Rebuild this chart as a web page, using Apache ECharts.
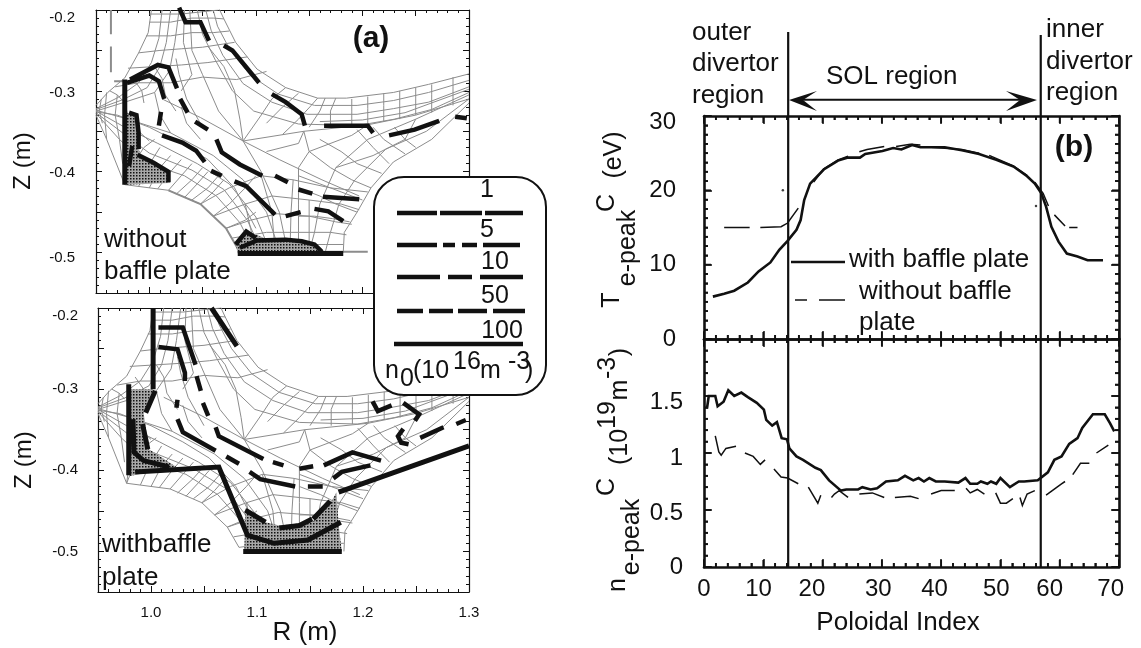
<!DOCTYPE html>
<html>
<head>
<meta charset="utf-8">
<style>html,body{margin:0;padding:0;background:#fff}#chart{width:1141px;height:648px}</style>
<script src="https://cdn.jsdelivr.net/npm/echarts@6/dist/echarts.min.js"></script>
</head>
<body>
<div id="chart"></div>
<script>
var tempWith = [[1.5,5.7],[3.4,6.1],[5.1,6.5],[7.4,7.6],[9.2,9.1],[11.2,10.3],[12.7,12],[14.1,13.2],[15.6,14.7],[16.3,16],[16.9,18.7],[17.9,20.9],[20.2,22.8],[22.6,24],[24.3,24.4],[26.3,24.4],[27.2,24.9],[30.1,25.3],[31.9,25.7],[33.3,25.5],[35.1,26.1],[36.5,25.8],[40.6,25.8],[43.5,25.4],[46.4,24.9],[49.3,24.1],[52.2,23.2],[54.5,21.9],[55.8,20.9],[56.9,19.6],[57.7,17.8],[58.6,15.1],[59.8,13.1],[61.2,11.5],[63,11.1],[64.7,10.6],[67.3,10.6]];
var tempWithout = [[3.4,15],[7.7,15],[null,null],[9.5,15],[13,15.1],[14.1,15.6],[15.9,17.6],[null,null],[18.5,21.1],[20.2,22.9],[22.6,24.1],[24.3,24.6],[null,null],[26.2,25.2],[27.5,25.5],[30.4,25.9],[null,null],[32.4,25.9],[34.8,26.2],[36.5,26.1],[null,null],[38.3,25.8],[43.5,25.5],[46.4,25],[null,null],[48.1,24.7],[52.2,23.3],[54.5,22],[null,null],[55.8,21.1],[57.2,19.6],[58.1,17.9],[null,null],[59.1,16.7],[60.9,15.2],[null,null],[61.6,15],[63,15]];
var densWith = [[0.5,1.39],[0.8,1.5],[1.9,1.5],[2.3,1.41],[3.3,1.45],[4.1,1.55],[5.1,1.5],[6.3,1.53],[7.4,1.49],[8.9,1.44],[10.1,1.38],[10.5,1.29],[11.5,1.24],[12.3,1.27],[13.1,1.13],[14,1.12],[14.4,1.04],[15.6,0.97],[16.7,0.94],[18.8,0.87],[19.7,0.85],[21.1,0.76],[23.1,0.67],[24,0.68],[26,0.68],[26.7,0.7],[28.1,0.68],[29.2,0.69],[30.7,0.75],[32.7,0.76],[33.9,0.8],[35.3,0.76],[36.2,0.78],[37.1,0.75],[38,0.78],[39.1,0.75],[40.6,0.75],[42.9,0.74],[44.1,0.78],[44.9,0.73],[46.1,0.73],[46.7,0.75],[47.8,0.73],[48.4,0.75],[49.3,0.73],[50,0.78],[51.6,0.7],[53.1,0.75],[54,0.75],[56.3,0.76],[58,0.83],[59.1,0.94],[60.3,0.97],[61.6,1.08],[63,1.13],[63.8,1.22],[65.6,1.34],[67.6,1.34],[68.5,1.26],[69.2,1.19]];
var densWithout = [[1.9,1.15],[2.5,1.01],[2.9,0.98],[3.7,1.04],[5.4,1.06],[null,null],[6.9,1],[8.3,0.97],[9.5,0.9],[10.3,0.94],[null,null],[11.8,0.86],[13,0.79],[14.1,0.78],[15.9,0.73],[null,null],[17.6,0.7],[19.2,0.56],[19.7,0.63],[null,null],[21.5,0.61],[22,0.64],[22.8,0.67],[24.3,0.61],[null,null],[26.2,0.64],[28.4,0.65],[30.4,0.61],[null,null],[32.2,0.61],[34.8,0.62],[36.2,0.6],[null,null],[38.3,0.64],[40,0.67],[42.3,0.67],[null,null],[44.2,0.69],[44.9,0.65],[46.1,0.68],[47.3,0.64],[null,null],[49.2,0.65],[50,0.56],[51,0.56],[52.1,0.6],[null,null],[53.3,0.61],[53.7,0.54],[54.5,0.64],[55.8,0.67],[null,null],[57.7,0.63],[60.3,0.73],[60.9,0.75],[null,null],[62.2,0.81],[63.5,0.91],[65,0.91],[null,null],[66.2,1],[68.2,1.07]];
var strayDots = [[13.3,20],[56,17.9]];
var regionBounds = [14.2,56.8];
var solSpan = [[16.7,32.2],[53.3,32.2]];

// tick labels, places are where the labels sit in the original
var indexLabels = ['0','10','20','30','40','50','60','70'];
var indexLabelPlaces = [0,9.2,18.2,29.4,38.9,49.3,58.3,68.6];
var tempLabels = ['0','10','20','30'];
var tempLabelPlaces = [0,10,20,29.1];
var densLabels = ['0','0.5','1','1.5'];
var densLabelPlaces = [0,0.47,0.95,1.44];
var rLabels = ['1.0','1.1','1.2','1.3'];
var rLabelPlaces = [1.0,1.1,1.2,1.3];
var zLabels = ['-0.5','-0.4','-0.3','-0.2'];
var zLabelPlacesTop = [-0.506,-0.4015,-0.3025,-0.21];
var zLabelPlacesBottom = [-0.5,-0.4,-0.3,-0.21];

// (a) computational mesh in R,Z, same for both panels
var meshLines = [
  [[1.065,-0.197],[1.07,-0.211],[1.081,-0.24],[1.101,-0.273],[1.128,-0.296],[1.158,-0.309],[1.185,-0.309],[1.229,-0.302],[1.262,-0.292],[1.3,-0.279]],
  [[1.06,-0.2],[1.064,-0.22],[1.076,-0.25],[1.095,-0.281],[1.121,-0.304],[1.155,-0.318],[1.195,-0.318],[1.229,-0.312],[1.262,-0.302],[1.3,-0.287]],
  [[1.053,-0.2],[1.058,-0.225],[1.069,-0.256],[1.088,-0.291],[1.115,-0.314],[1.148,-0.329],[1.195,-0.329],[1.229,-0.322],[1.262,-0.314],[1.3,-0.295]],
  [[1.045,-0.2],[1.05,-0.23],[1.062,-0.262],[1.078,-0.3],[1.098,-0.325],[1.14,-0.341],[1.195,-0.343],[1.23,-0.335],[1.265,-0.323],[1.3,-0.302]],
  [[1.16,-0.338],[1.2,-0.336],[1.24,-0.327],[1.3,-0.298]],
  [[1.088,-0.362],[1.145,-0.35],[1.205,-0.342],[1.25,-0.33],[1.3,-0.31]],
  [[1.038,-0.2],[1.04,-0.25],[1.05,-0.28],[1.065,-0.325],[1.088,-0.362]],
  [[1.033,-0.2],[1.032,-0.24],[1.04,-0.28],[1.03,-0.3]],
  [[1.028,-0.2],[1.024,-0.24],[1.019,-0.275],[1.005,-0.302],[0.977,-0.314],[0.95,-0.325]],
  [[1.02,-0.2],[1.016,-0.24],[1.01,-0.27],[0.998,-0.296],[0.975,-0.311],[0.95,-0.323]],
  [[1.012,-0.2],[1.009,-0.235],[1.002,-0.265],[0.99,-0.29],[0.971,-0.308],[0.95,-0.322]],
  [[1.002,-0.2],[0.999,-0.228],[0.99,-0.253],[0.977,-0.284],[0.961,-0.302],[0.95,-0.318]],
  [[1.0,-0.205],[1.03,-0.205],[1.065,-0.2]],
  [[1.0,-0.215],[1.02,-0.215],[1.04,-0.21],[1.06,-0.21],[1.07,-0.211]],
  [[0.997,-0.232],[1.02,-0.232],[1.04,-0.228],[1.06,-0.228],[1.075,-0.226]],
  [[0.99,-0.253],[1.01,-0.25],[1.03,-0.248],[1.05,-0.246],[1.08,-0.24]],
  [[0.98,-0.272],[1.005,-0.27],[1.03,-0.268],[1.055,-0.265],[1.092,-0.258]],
  [[0.968,-0.295],[0.99,-0.29],[1.02,-0.29],[1.05,-0.283],[1.082,-0.286],[1.11,-0.276]],
  [[1.088,-0.362],[1.085,-0.335],[1.08,-0.3],[1.07,-0.27],[1.055,-0.245]],
  [[1.088,-0.362],[1.105,-0.33],[1.115,-0.31],[1.128,-0.296]],
  [[1.11,-0.34],[1.125,-0.32],[1.14,-0.303]],
  [[1.125,-0.354],[1.14,-0.335],[1.152,-0.318],[1.158,-0.309]],
  [[1.15,-0.345],[1.16,-0.325],[1.165,-0.309]],
  [[1.17,-0.345],[1.17,-0.325],[1.175,-0.309]],
  [[1.19,-0.343],[1.19,-0.325],[1.19,-0.31]],
  [[1.205,-0.342],[1.205,-0.322],[1.205,-0.307]],
  [[1.22,-0.338],[1.22,-0.318],[1.22,-0.303]],
  [[1.235,-0.335],[1.235,-0.31],[1.235,-0.3]],
  [[1.25,-0.33],[1.25,-0.31],[1.25,-0.296]],
  [[1.265,-0.327],[1.265,-0.305],[1.265,-0.292]],
  [[1.285,-0.318],[1.285,-0.295],[1.285,-0.283]],
  [[1.05,-0.345],[1.035,-0.31],[1.028,-0.28],[1.025,-0.26]],
  [[1.025,-0.325],[1.015,-0.305],[1.012,-0.285],[1.005,-0.27]],
  [[1.03,-0.32],[1.035,-0.34],[1.048,-0.36]],
  [[1.005,-0.302],[1.01,-0.33],[1.02,-0.352]],
  [[0.985,-0.33],[0.99,-0.35],[1.0,-0.362]],
  [[0.995,-0.315],[0.993,-0.3],[0.985,-0.285]],
  [[0.975,-0.312],[0.97,-0.305],[0.963,-0.3]],
  [[0.955,-0.31],[0.953,-0.325],[0.956,-0.34]],
  [[0.95,-0.33],[0.96,-0.36],[0.977,-0.416],[1.018,-0.423],[1.048,-0.44],[1.072,-0.47],[1.083,-0.495]],
  [[0.95,-0.328],[0.972,-0.36],[0.995,-0.388],[1.033,-0.405],[1.063,-0.43],[1.085,-0.463],[1.098,-0.497]],
  [[0.95,-0.327],[0.975,-0.352],[1.0,-0.377],[1.04,-0.398],[1.07,-0.422],[1.092,-0.46],[1.105,-0.497]],
  [[0.95,-0.325],[0.977,-0.345],[1.008,-0.365],[1.045,-0.39],[1.075,-0.415],[1.1,-0.456],[1.113,-0.497]],
  [[0.95,-0.326],[0.97,-0.33],[1.0,-0.345],[1.03,-0.365],[1.055,-0.385],[1.08,-0.42],[1.1,-0.47]],
  [[0.95,-0.324],[0.98,-0.335],[1.02,-0.352],[1.06,-0.38],[1.088,-0.41],[1.11,-0.45],[1.122,-0.497]],
  [[1.012,-0.31],[1.048,-0.333],[1.088,-0.362],[1.122,-0.385],[1.162,-0.41],[1.197,-0.43]],
  [[1.088,-0.362],[1.105,-0.4],[1.122,-0.45],[1.13,-0.5]],
  [[1.3,-0.315],[1.265,-0.36],[1.229,-0.388],[1.208,-0.42],[1.195,-0.45],[1.183,-0.475],[1.182,-0.5]],
  [[1.3,-0.31],[1.26,-0.35],[1.222,-0.372],[1.193,-0.41],[1.178,-0.44],[1.17,-0.475],[1.165,-0.5]],
  [[1.3,-0.305],[1.25,-0.335],[1.205,-0.36],[1.175,-0.395],[1.16,-0.44],[1.155,-0.475],[1.15,-0.5]],
  [[1.145,-0.35],[1.15,-0.375],[1.14,-0.395],[1.14,-0.44],[1.14,-0.475],[1.14,-0.5]],
  [[1.11,-0.375],[1.14,-0.365],[1.145,-0.35]],
  [[1.15,-0.375],[1.19,-0.355],[1.205,-0.342]],
  [[1.175,-0.395],[1.21,-0.38],[1.24,-0.36],[1.25,-0.335]],
  [[1.083,-0.495],[1.11,-0.49],[1.14,-0.49],[1.165,-0.49],[1.182,-0.49]],
  [[1.078,-0.482],[1.11,-0.475],[1.14,-0.475],[1.17,-0.475],[1.185,-0.478]],
  [[1.072,-0.47],[1.095,-0.46],[1.12,-0.452],[1.15,-0.455],[1.175,-0.462],[1.19,-0.465]],
  [[1.06,-0.455],[1.09,-0.44],[1.115,-0.43],[1.15,-0.435],[1.18,-0.44],[1.197,-0.447]],
  [[1.048,-0.44],[1.075,-0.42],[1.105,-0.405],[1.135,-0.41],[1.17,-0.42],[1.205,-0.425]],
  [[1.09,-0.44],[1.095,-0.47],[1.1,-0.497]],
  [[1.105,-0.405],[1.115,-0.45],[1.118,-0.497]],
  [[1.135,-0.41],[1.133,-0.45],[1.132,-0.5]],
  [[1.15,-0.435],[1.15,-0.5]],
  [[0.977,-0.416],[0.985,-0.39],[0.995,-0.37],[1.005,-0.36]],
  [[0.99,-0.418],[0.998,-0.395],[1.01,-0.37]],
  [[1.0,-0.42],[1.01,-0.395],[1.02,-0.38]],
  [[1.008,-0.421],[1.02,-0.4],[1.03,-0.385]],
  [[1.018,-0.423],[1.03,-0.405],[1.04,-0.39]],
  [[1.025,-0.428],[1.04,-0.41],[1.05,-0.395]],
  [[1.033,-0.432],[1.045,-0.415],[1.055,-0.4]],
  [[1.04,-0.435],[1.055,-0.42],[1.065,-0.405]],
  [[1.048,-0.44],[1.06,-0.425],[1.07,-0.41]],
  [[1.06,-0.455],[1.075,-0.44],[1.09,-0.42],[1.1,-0.405]],
  [[1.072,-0.47],[1.09,-0.46],[1.1,-0.45]],
  [[1.25,-0.37],[1.24,-0.36],[1.23,-0.345]],
  [[1.24,-0.378],[1.22,-0.36],[1.21,-0.345]],
  [[1.225,-0.39],[1.21,-0.37],[1.195,-0.348]],
  [[1.218,-0.402],[1.195,-0.39],[1.18,-0.375],[1.16,-0.36]],
  [[1.208,-0.42],[1.19,-0.41],[1.17,-0.395],[1.15,-0.375]],
  [[1.2,-0.435],[1.18,-0.425],[1.16,-0.415],[1.14,-0.405]],
  [[1.195,-0.45],[1.175,-0.44],[1.16,-0.43],[1.14,-0.42]],
  [[1.188,-0.462],[1.172,-0.458],[1.155,-0.455],[1.14,-0.455]],
  [[0.96,-0.302],[0.958,-0.33],[0.96,-0.36]],
  [[0.97,-0.305],[0.968,-0.33],[0.972,-0.36],[0.975,-0.39]],
  [[0.977,-0.31],[0.98,-0.335],[0.982,-0.37],[0.977,-0.416]]
];
var topGrayLines = [
  [[0.964,-0.2],[0.964,-0.23]],
  [[0.964,-0.245],[0.964,-0.277]],
  [[0.967,-0.288],[0.977,-0.288]],
  [[1.083,-0.499],[1.205,-0.499]],
  [[1.018,-0.423],[1.048,-0.44],[1.072,-0.47],[1.083,-0.495]]
];

// n0 contours, without baffle plate
var topLevel1 = [
  [[1.028,-0.197],[1.034,-0.215],[1.048,-0.215],[1.056,-0.238]],
  [[1.07,-0.244],[1.078,-0.25],[1.103,-0.29]],
  [[1.115,-0.304],[1.128,-0.314],[1.143,-0.329],[1.146,-0.343]],
  [[1.164,-0.343],[1.205,-0.343],[1.21,-0.352]],
  [[1.225,-0.355],[1.249,-0.348],[1.272,-0.337]],
  [[1.287,-0.332],[1.298,-0.334]]
];
var topLevel5 = [
  [[0.982,-0.286],[1.008,-0.268],[1.018,-0.271],[1.026,-0.297]],
  [[1.029,-0.31],[1.036,-0.327]],
  [[1.043,-0.338],[1.055,-0.348]],
  [[1.063,-0.36],[1.068,-0.376],[1.085,-0.391],[1.106,-0.405]],
  [[1.118,-0.405],[1.13,-0.413]],
  [[1.14,-0.422],[1.153,-0.427]],
  [[1.163,-0.431],[1.197,-0.434]]
];
var topLevel10 = [
  [[0.979,-0.29],[1.0,-0.281],[1.009,-0.288],[1.014,-0.31]],
  [[1.011,-0.326],[1.009,-0.343]],
  [[1.012,-0.355],[1.031,-0.364],[1.044,-0.374],[1.052,-0.388]],
  [[1.058,-0.399],[1.068,-0.405]],
  [[1.08,-0.412],[1.091,-0.418],[1.118,-0.453]],
  [[1.128,-0.455],[1.142,-0.45]],
  [[1.155,-0.446],[1.168,-0.449],[1.182,-0.461]]
];
var topLevel50 = [
  [[0.981,-0.327],[0.988,-0.33],[0.99,-0.352],[0.99,-0.372]],
  [[0.984,-0.368],[0.981,-0.393]],
  [[0.989,-0.379],[1.004,-0.389],[1.018,-0.4],[1.018,-0.413]],
  [[1.081,-0.49],[1.091,-0.474],[1.1,-0.482]],
  [[1.085,-0.494],[1.101,-0.485],[1.128,-0.484],[1.143,-0.486],[1.155,-0.49],[1.162,-0.499]]
];
var topLevel100 = [
  [[0.977,-0.286],[0.977,-0.416]],
  [[1.083,-0.501],[1.182,-0.501]]
];
var topStipple = [
  [[0.979,-0.327],[0.988,-0.331],[0.991,-0.379],[1.018,-0.401],[1.019,-0.414],[0.979,-0.416]],
  [[1.081,-0.49],[1.093,-0.474],[1.108,-0.482],[1.142,-0.484],[1.162,-0.496],[1.163,-0.501],[1.083,-0.501]]
];

// n0 contours, with baffle plate
var bottomLevel5 = [
  [[1.007,-0.224],[1.03,-0.224],[1.042,-0.27]],
  [[1.043,-0.284],[1.047,-0.302]],
  [[1.049,-0.317],[1.054,-0.333]],
  [[1.061,-0.347],[1.064,-0.358],[1.106,-0.386]],
  [[1.115,-0.39],[1.125,-0.394]],
  [[1.14,-0.398],[1.153,-0.395]],
  [[1.163,-0.394],[1.19,-0.378],[1.217,-0.388]],
  [[1.209,-0.315],[1.214,-0.327],[1.227,-0.32]],
  [[1.238,-0.317],[1.253,-0.331],[1.249,-0.339]],
  [[1.238,-0.349],[1.233,-0.358],[1.236,-0.366],[1.243,-0.368]],
  [[1.254,-0.36],[1.276,-0.347]],
  [[1.288,-0.343],[1.297,-0.338]]
];
var bottomLevel10 = [
  [[1.007,-0.248],[1.025,-0.251],[1.032,-0.28],[1.032,-0.29]],
  [[1.025,-0.313],[1.024,-0.323]],
  [[1.025,-0.337],[1.03,-0.353],[1.061,-0.376]],
  [[1.071,-0.383],[1.083,-0.392]],
  [[1.093,-0.402],[1.103,-0.411],[1.136,-0.42]],
  [[1.148,-0.42],[1.162,-0.42]],
  [[1.172,-0.41],[1.18,-0.402],[1.207,-0.394]]
];
var bottomLevel50 = [
  [[1.004,-0.302],[0.995,-0.329]],
  [[0.992,-0.343],[0.997,-0.374]],
  [[1.089,-0.449],[1.108,-0.464]],
  [[1.121,-0.471],[1.14,-0.468],[1.152,-0.46]],
  [[1.153,-0.46],[1.169,-0.438]],
  [[1.057,-0.2],[1.081,-0.247]]
];
var bottomLevel100 = [
  [[1.002,-0.2],[1.002,-0.3]],
  [[0.985,-0.402],[1.064,-0.396],[1.091,-0.48],[1.116,-0.49],[1.148,-0.486],[1.179,-0.464]],
  [[0.983,-0.337],[0.984,-0.378],[0.993,-0.388],[1.017,-0.396]],
  [[1.177,-0.427],[1.3,-0.37]],
  [[0.979,-0.294],[0.979,-0.406]],
  [[1.087,-0.5],[1.18,-0.5]]
];
var bottomStipple = [
  [[0.98,-0.3],[1.002,-0.3],[0.993,-0.329],[0.998,-0.374],[1.024,-0.396],[0.98,-0.407]],
  [[1.089,-0.447],[1.108,-0.464],[1.121,-0.468],[1.152,-0.464],[1.17,-0.439],[1.175,-0.427],[1.177,-0.467],[1.18,-0.5],[1.088,-0.5]]
];

var textFont = '"Liberation Sans", Arial, sans-serif';
var black = '#111';

function flat(lines){
  var out = [];
  lines.forEach(function(l){ out = out.concat(l); out.push([null,null]); });
  return out;
}

// shaded areas use a small dotted tile
var tile = document.createElement('canvas');
tile.width = 3; tile.height = 3;
var tc = tile.getContext('2d');
tc.fillStyle = '#a8a8a8'; tc.fillRect(0,0,3,3);
tc.fillStyle = '#111'; tc.fillRect(1,1,1.5,1.5);

function stipple(polys, idx){
  return polys.map(function(poly){
    return {
      type:'custom', xAxisIndex:idx, yAxisIndex:idx, data:poly, encode:{x:0,y:1}, z:3, clip:false,
      renderItem:function(params, api){
        if(params.dataIndex !== 0) return;
        return {type:'polygon', shape:{points:poly.map(function(p){return api.coord(p);})},
          style:{fill:{image:tile, repeat:'repeat'}}};
      }
    };
  });
}

function pathSeries(data, idx, width, color, z, clip){
  return {
    type:'line', xAxisIndex:idx, yAxisIndex:idx, data:data, showSymbol:false, symbol:'none', connectNulls:false,
    clip:clip, z:z, lineStyle:{color:color||black, width:width, cap:'butt', join:'miter'}, emphasis:{disabled:true}
  };
}

function labelFn(places, labels){
  return function(v){
    var best = 0;
    places.forEach(function(p,i){ if(Math.abs(p-v) < Math.abs(places[best]-v)) best = i; });
    return labels[best];
  };
}

// one axis, mirror axes carry only the ticks
function axis(o){
  var a = {
    type:'value', min:o.min, max:o.max, interval:o.interval, position:o.position, gridIndex:o.grid,
    splitLine:{show:false},
    axisLine:{show:true, onZero:false, lineStyle:{color:black, width:o.line}},
    axisTick:{show:true, inside:true, length:o.tick, lineStyle:{color:black, width:o.tickWidth}},
    minorTick:{show:true, splitNumber:o.minor, length:o.tick/2, lineStyle:{color:black, width:o.tickWidth}},
    axisLabel:{show:false}
  };
  if(o.labels){
    a.axisLabel = {show:true, customValues:o.places, formatter:labelFn(o.places,o.labels), color:black,
      fontFamily:textFont, fontSize:o.size, margin:o.margin};
  }
  return a;
}

var leftStyle = {line:1.2, tick:6, tickWidth:1, size:15};
var rightStyle = {line:2.6, tick:8, tickWidth:1.5, size:24};
function merge(a,b){ return Object.assign({}, a, b); }

var xAxes = [
  axis(merge(leftStyle,{grid:0,min:0.95,max:1.3,interval:0.05,minor:5,position:'bottom'})),
  axis(merge(leftStyle,{grid:1,min:0.95,max:1.3,interval:0.05,minor:5,position:'bottom',labels:rLabels,places:rLabelPlaces,margin:13})),
  axis(merge(rightStyle,{grid:2,min:0,max:70,interval:10,minor:5,position:'bottom'})),
  axis(merge(rightStyle,{grid:3,min:0,max:70,interval:10,minor:5,position:'bottom',labels:indexLabels,places:indexLabelPlaces,margin:10}))
];
var yAxes = [
  axis(merge(leftStyle,{grid:0,min:-0.55,max:-0.2,interval:0.05,minor:5,position:'left',labels:zLabels,places:zLabelPlacesTop,margin:21})),
  axis(merge(leftStyle,{grid:1,min:-0.55,max:-0.2,interval:0.05,minor:5,position:'left',labels:zLabels,places:zLabelPlacesBottom,margin:20})),
  axis(merge(rightStyle,{grid:2,min:0,max:30,interval:10,minor:8,position:'left',labels:tempLabels,places:tempLabelPlaces,margin:28})),
  axis(merge(rightStyle,{grid:3,min:0,max:2,interval:0.5,minor:5,position:'left',labels:densLabels,places:densLabelPlaces,margin:21}))
];
[xAxes,yAxes].forEach(function(list){
  var mains = list.slice();
  mains.forEach(function(m){
    var c = Object.assign({}, m, {axisLabel:{show:false}});
    c.position = {bottom:'top', left:'right'}[m.position];
    list.push(c);
  });
});

var series = [];
[0,1].forEach(function(i){
  series.push(pathSeries(flat(meshLines), i, 1, '#8c8c8c', 2, true));
});
series.push(pathSeries(flat(topGrayLines), 0, 2, '#8c8c8c', 2, false));
series = series.concat(stipple(topStipple,0), stipple(bottomStipple,1));
[topLevel1,topLevel5,topLevel10,topLevel50].forEach(function(l){
  series.push(pathSeries(flat(l), 0, 4.5, black, 5, false));
});
series.push(pathSeries(flat(topLevel100), 0, 5, black, 5, false));
[bottomLevel5,bottomLevel10].forEach(function(l){
  series.push(pathSeries(flat(l), 1, 4.5, black, 5, false));
});
series.push(pathSeries(flat(bottomLevel50), 1, 5, black, 5, false));
series.push(pathSeries(flat(bottomLevel100), 1, 5, black, 5, false));

series.push(pathSeries(tempWith, 2, 2.6, black, 5, true));
series.push(pathSeries(tempWithout, 2, 1.5, black, 5, true));
series.push(pathSeries(densWith, 3, 2.6, black, 5, true));
series.push(pathSeries(densWithout, 3, 1.5, black, 5, true));
series.push({type:'scatter', xAxisIndex:2, yAxisIndex:2, data:strayDots, symbolSize:2.5, itemStyle:{color:black}, z:5});

// region separators run above the frame, arrow spans the SOL
series.push(pathSeries([[regionBounds[0],0],[regionBounds[0],41.3]], 2, 2.2, black, 6, false));
series.push(pathSeries([[regionBounds[1],0],[regionBounds[1],40.9]], 2, 2.2, black, 6, false));
series.push(pathSeries([[regionBounds[0],0],[regionBounds[0],2]], 3, 2.2, black, 6, false));
series.push(pathSeries([[regionBounds[1],0],[regionBounds[1],2]], 3, 2.2, black, 6, false));
series.push(pathSeries(solSpan, 2, 2, black, 6, false));

// annotation text
function t(text, x, y, size, o){
  o = o || {};
  return {
    type:'text', x:x, y:y, z:100, rotation:o.rot || 0,
    style:{text:text, fontFamily:textFont, fontSize:size, fontWeight:o.bold ? 'bold' : 'normal', fill:black,
      align:o.align || 'left', verticalAlign:'middle'}
  };
}
var up = Math.PI/2;
function vt(text, x, y, size){ return t(text, x, y, size, {rot:up, align:'center'}); }
function stroke(x1, y1, x2, y2, w){
  return {type:'line', z:101, shape:{x1:x1,y1:y1,x2:x2,y2:y2}, style:{stroke:black, lineWidth:w}};
}
function seg(x1, x2, y, w){ return stroke(x1,y,x2,y,w); }
function head(points){
  return {type:'polygon', z:101, shape:{points:points}, style:{fill:black}};
}

var legendDashes = [
  [[397,437],[440,482],[485,523]],
  [[397,437],[443,455],[462,477],[483,520]],
  [[397,440],[448,472],[480,523]],
  [[397,423],[429,453],[458,487],[493,525]],
  [[394,523]]
];
var legendYs = [213,245,277,311,344];

var graphics = [
  {type:'rect', z:99, shape:{x:374,y:177,width:172,height:218,r:30}, style:{fill:'#fff',stroke:black,lineWidth:2}},
  t('1',487,190,25,{align:'center'}), t('5',487,230,25,{align:'center'}), t('10',495,262,25,{align:'center'}),
  t('50',495,296,25,{align:'center'}), t('100',502,331,25,{align:'center'}),
  t('n',385,371,25), t('0',400,379,25), t('(10',413,371,25),
  t('16',453,362,25), t('m',480,371,25), t('-3',508,362,25), t(')',525,371,25),

  t('(a)',371,39,30,{bold:true,align:'center'}),
  t('without',104,240,26), t('baffle plate',104,272,26),
  t('withbaffle',102,545,26), t('plate',102,578,26),
  vt('Z (m)',23,161,24), vt('Z (m)',24,460,24),
  t('R (m)',305,633,26,{align:'center'}),

  t('outer',692,33,26), t('divertor',692,64,26), t('region',692,96,26),
  t('inner',1046,30,26), t('divertor',1046,62,26), t('region',1046,93,26),
  t('SOL region',826,77,26),
  head([[789,100],[817,91],[803,100],[817,111]]),
  head([[1037,100],[1006,91],[1020,100],[1006,111]]),
  t('(b)',1074,148,30,{bold:true,align:'center'}),
  t('with baffle plate',849,260,26),
  t('without baffle',859,292,26), t('plate',859,323,26),
  seg(791,845,262,2.5), seg(795,807,300,1.5), seg(819,845,300,1.5),
  t('Poloidal Index',898,623,26,{align:'center'}),

  vt('T',612,300,25), vt('e-peak',628,248,25), vt('C',607,203,25), vt('(eV)',614,155,25),
  vt('n',618,585,25), vt('e-peak',632,537,25), vt('C',607,487,25), vt('(10',620,447,25),
  vt('19',608,415,25), vt('m',620,390,25), vt('-3',608,368,25), vt(')',620,352,25)
];
legendDashes.forEach(function(row,i){
  row.forEach(function(d){ graphics.push(seg(d[0],d[1],legendYs[i],4.5)); });
});

// frame ticks of panel (b), drawn on top of everything
function frameTicks(left, top, width, height, xCount, xEvery, yCount, yEvery){
  for(var i = 0; i <= xCount; i++){
    var x = left + width*i/xCount, lx = i%xEvery ? 4 : 7;
    graphics.push(stroke(x,top,x,top+lx,1.8), stroke(x,top+height,x,top+height-lx,1.8));
  }
  for(var j = 0; j <= yCount; j++){
    var y = top + height*j/yCount, ly = j%yEvery ? 4 : 7;
    graphics.push(stroke(left,y,left+ly,y,1.8), stroke(left+width,y,left+width-ly,y,1.8));
  }
}
frameTicks(704,116,415,223,35,5,24,8);
frameTicks(704,339,415,228,35,5,20,5);

var chart = echarts.init(document.getElementById('chart'));
chart.setOption({
  animation:false,
  backgroundColor:'#fff',
  grid:[
    {left:96, top:10, width:373, height:283},
    {left:98, top:308, width:371, height:284},
    {left:704, top:116, width:415, height:223},
    {left:704, top:339, width:415, height:228}
  ],
  xAxis:xAxes,
  yAxis:yAxes,
  series:series,
  graphic:{elements:graphics}
});
</script>
</body>
</html>
